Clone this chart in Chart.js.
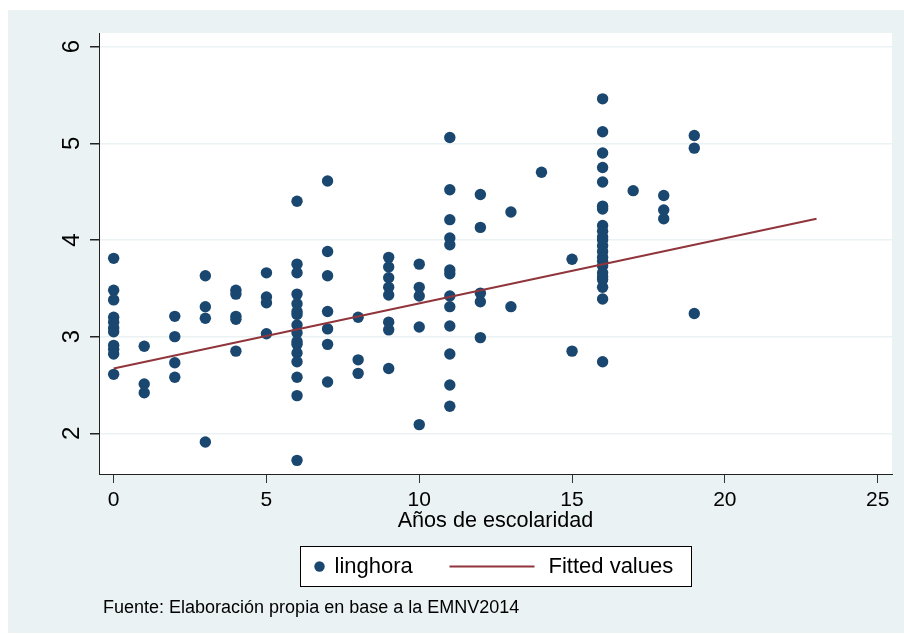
<!DOCTYPE html>
<html>
<head>
<meta charset="utf-8">
<title>linghora vs Años de escolaridad</title>
<script src="https://cdn.jsdelivr.net/npm/chart.js@4.4.1/dist/chart.umd.min.js"></script>
<style>
    html, body { margin: 0; padding: 0; background: #fff; }
    #wrap { width: 904px; height: 634px; }
</style>
</head>
<body>
<div id="wrap"><canvas id="chart" width="904" height="634"></canvas></div>
<script>
// --- Data ---
const escolaridad = [
    0, 0, 0, 0, 0, 0, 0, 0, 0, 0, 0,
    1, 1, 1,
    2, 2, 2, 2,
    3, 3, 3, 3,
    4, 4, 4, 4, 4,
    5, 5, 5, 5,
    6, 6, 6, 6, 6, 6, 6, 6, 6, 6, 6, 6, 6, 6, 6, 6,
    7, 7, 7, 7, 7, 7, 7,
    8, 8, 8,
    9, 9, 9, 9, 9, 9, 9, 9,
    10, 10, 10, 10, 10,
    11, 11, 11, 11, 11, 11, 11, 11, 11, 11, 11, 11, 11,
    12, 12, 12, 12, 12,
    13, 13,
    14,
    15, 15,
    16, 16, 16, 16, 16, 16, 16, 16, 16, 16, 16, 16, 16, 16, 16, 16, 16, 16, 16, 16, 16, 16,
    17,
    18, 18, 18,
    19, 19, 19
];
const linghora = [
    3.81, 3.48, 3.38, 3.20, 3.15, 3.09, 3.05, 2.91, 2.87, 2.82, 2.61,
    2.90, 2.51, 2.42,
    3.21, 3.00, 2.73, 2.58,
    3.63, 3.31, 3.19, 1.91,
    3.48, 3.44, 3.21, 3.18, 2.85,
    3.66, 3.41, 3.35, 3.03,
    4.40, 3.75, 3.66, 3.44, 3.34, 3.26, 3.23, 3.12, 3.04, 2.95, 2.92, 2.83, 2.74, 2.58, 2.39, 1.72,
    4.61, 3.88, 3.63, 3.26, 3.08, 2.92, 2.53,
    3.20, 2.76, 2.62,
    3.82, 3.72, 3.61, 3.51, 3.43, 3.15, 3.07, 2.67,
    3.75, 3.51, 3.42, 3.10, 2.09,
    5.06, 4.52, 4.21, 4.02, 3.95, 3.69, 3.65, 3.42, 3.31, 3.11, 2.82, 2.50, 2.28,
    4.47, 4.13, 3.45, 3.36, 2.99,
    4.29, 3.31,
    4.70,
    3.80, 2.85,
    5.46, 5.12, 4.90, 4.75, 4.60, 4.35, 4.32, 4.15, 4.09, 4.03, 4.00, 3.94, 3.88, 3.82, 3.78, 3.73, 3.66, 3.62, 3.59, 3.51, 3.39, 2.74,
    4.51,
    4.46, 4.31, 4.22,
    5.08, 4.95, 3.24
];
// fitted line end points
const fitX = [0, 23];
const fitY = [2.67, 4.22];

const xTicks = [0, 5, 10, 15, 20, 25];
const yTicks = [2, 3, 4, 5, 6];
const xTitle = 'Años de escolaridad';
const seriesNames = ['linghora', 'Fitted values'];
const footnote = 'Fuente: Elaboración propia en base a la EMNV2014';

// --- Style ---
const NAVY = '#1a476f';
const MAROON = '#90353b';
const PANEL = '#eaf2f3';
const FONT = '"Liberation Sans", Arial, sans-serif';

// --- Plugins: stata-like background, legend box, footnote ---
const stataBackground = {
    id: 'stataBackground',
    beforeDraw(chart) {
        const { ctx, chartArea: a } = chart;
        ctx.save();
        ctx.fillStyle = PANEL;
        ctx.fillRect(8, 10, chart.width - 8, chart.height - 11);
        ctx.fillStyle = '#fff';
        ctx.fillRect(a.left, a.top, a.right - a.left, a.bottom - a.top);
        ctx.restore();
    }
};

const stataLegend = {
    id: 'stataLegend',
    afterDraw(chart) {
        const { ctx, chartArea: a } = chart;
        const cx = (a.left + a.right) / 2;
        const boxW = 391, boxH = 40;
        const left = Math.round(cx - boxW / 2) + 0.5;
        const top = 546.5;
        const midY = top + boxH / 2;

        ctx.save();
        ctx.fillStyle = '#fff';
        ctx.fillRect(left, top, boxW, boxH);
        ctx.strokeStyle = '#000';
        ctx.lineWidth = 1;
        ctx.strokeRect(left, top, boxW, boxH);

        // marker key
        ctx.fillStyle = NAVY;
        ctx.beginPath();
        ctx.arc(left + 19, midY, 5.2, 0, Math.PI * 2);
        ctx.fill();

        ctx.fillStyle = '#000';
        ctx.font = '22px ' + FONT;
        ctx.textBaseline = 'middle';
        ctx.textAlign = 'left';
        ctx.fillText(seriesNames[0], left + 34, midY);

        // line key
        ctx.strokeStyle = MAROON;
        ctx.lineWidth = 2;
        ctx.beginPath();
        ctx.moveTo(left + 149, midY);
        ctx.lineTo(left + 234, midY);
        ctx.stroke();

        ctx.fillText(seriesNames[1], left + 248, midY);

        // footnote
        ctx.font = '18px ' + FONT;
        ctx.textBaseline = 'alphabetic';
        ctx.fillText(footnote, 103, 612.5);
        ctx.restore();
    }
};

// --- Chart ---
function initChart() {
    const ctx = document.getElementById('chart').getContext('2d');
    const points = escolaridad.map((x, i) => ({ x: x, y: linghora[i] }));
    const fitted = fitX.map((x, i) => ({ x: x, y: fitY[i] }));

    new Chart(ctx, {
        type: 'scatter',
        data: {
            datasets: [
                {
                    type: 'line',
                    label: seriesNames[1],
                    data: fitted,
                    borderColor: MAROON,
                    borderWidth: 2,
                    pointRadius: 0,
                    fill: false,
                    order: 0
                },
                {
                    type: 'scatter',
                    label: seriesNames[0],
                    data: points,
                    pointRadius: 5.7,
                    pointBackgroundColor: NAVY,
                    pointBorderWidth: 0,
                    order: 1
                }
            ]
        },
        options: {
            responsive: false,
            animation: false,
            layout: { padding: { left: 0, top: 33, right: 12, bottom: 100 } },
            plugins: {
                legend: { display: false },
                tooltip: { enabled: false }
            },
            scales: {
                x: {
                    type: 'linear',
                    min: -0.48,
                    max: 25.47,
                    afterBuildTicks: s => { s.ticks = xTicks.map(v => ({ value: v })); },
                    afterFit: s => { s.height = 60; },
                    grid: { display: true, drawOnChartArea: false, drawTicks: true, tickLength: 9, tickColor: '#333' },
                    border: { display: true, color: '#222', width: 1 },
                    ticks: { color: '#000', padding: 5, maxRotation: 0, font: { family: FONT, size: 21 } },
                    title: { display: true, text: xTitle, color: '#000', padding: 0, font: { family: FONT, size: 21.6 } }
                },
                y: {
                    type: 'linear',
                    min: 1.579,
                    max: 6.141,
                    afterBuildTicks: s => { s.ticks = yTicks.map(v => ({ value: v })); },
                    afterFit: s => { s.width = 99; },
                    grid: { color: PANEL, lineWidth: 1.5, drawTicks: true, tickLength: 9, tickColor: '#222' },
                    border: { display: true, color: '#222', width: 1 },
                    ticks: { color: '#000', minRotation: 90, maxRotation: 90, crossAlign: 'center', padding: 11, font: { family: FONT, size: 24 } }
                }
            }
        },
        plugins: [stataBackground, stataLegend]
    });
}

initChart();
</script>
</body>
</html>
